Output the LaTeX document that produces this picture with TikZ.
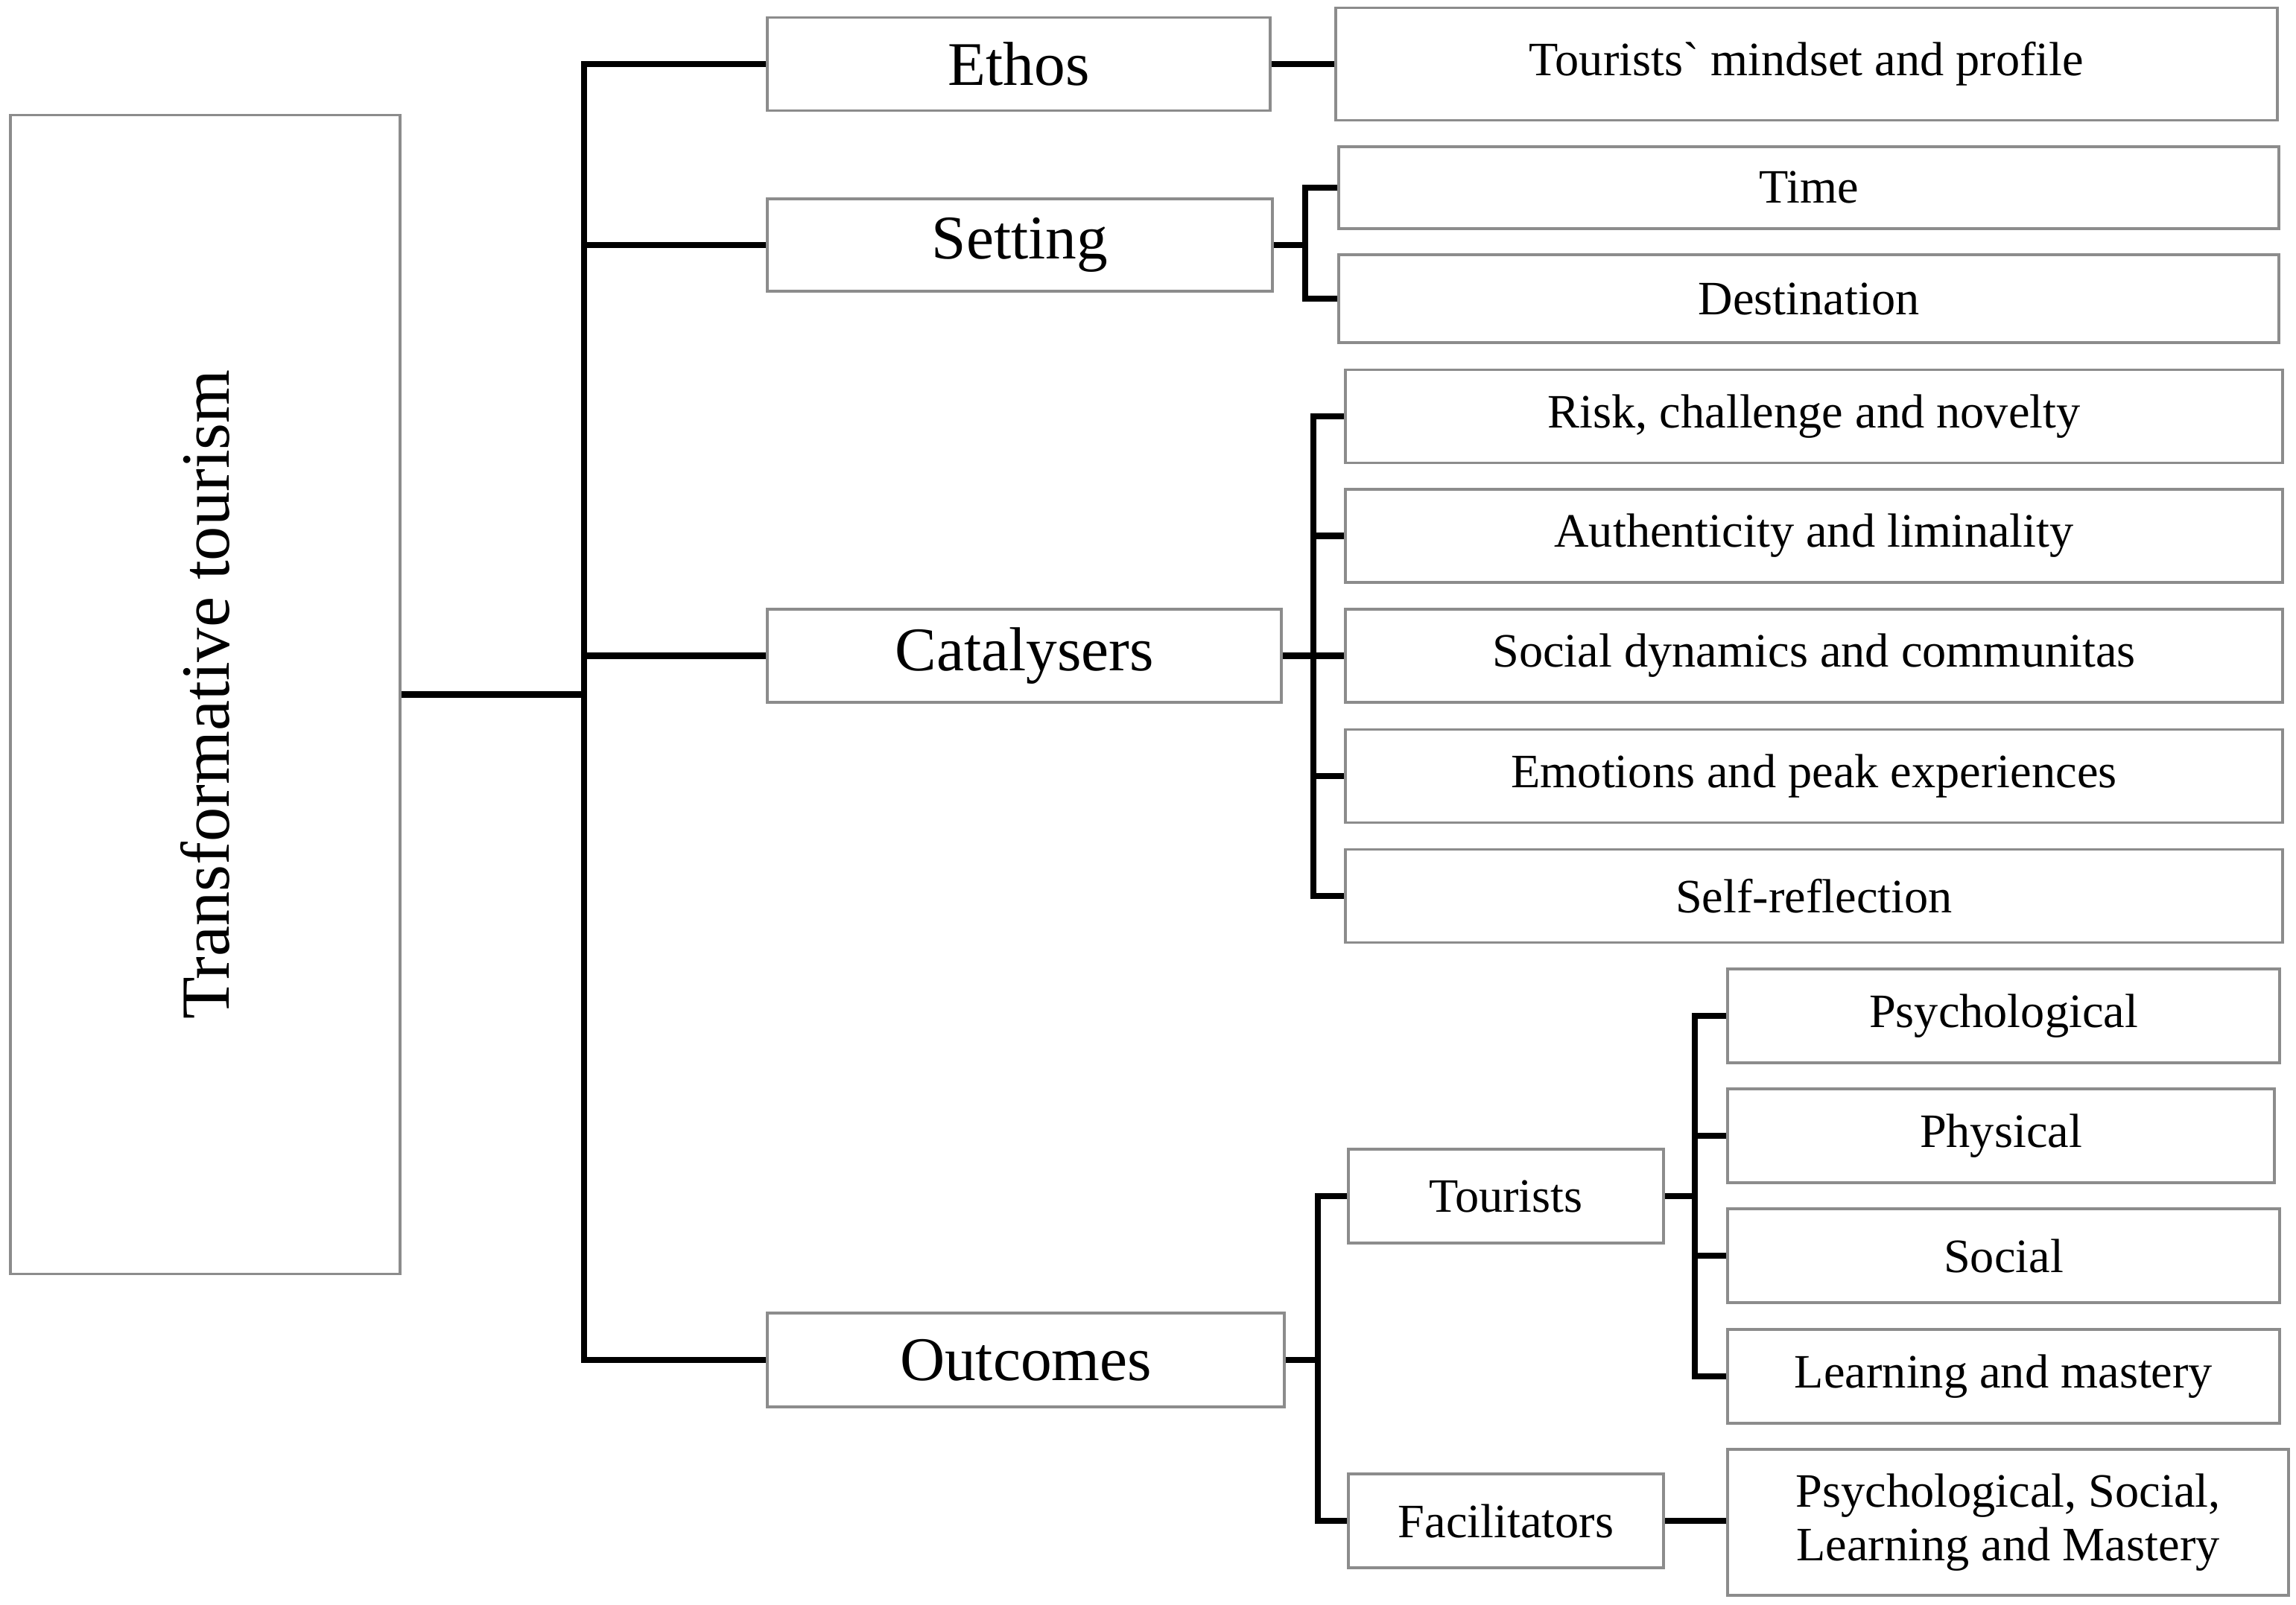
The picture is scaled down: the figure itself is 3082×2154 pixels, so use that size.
\documentclass[tikz,border=0pt]{standalone}
\usepackage{fontspec}
\setmainfont{Liberation Serif}
\definecolor{boxgray}{RGB}{140,140,140}
\begin{document}
\begin{tikzpicture}[x=0.01cm,y=-0.01cm,
  box/.style={draw=boxgray, line width=1.1pt, fill=white, inner sep=0pt, align=center},
  lvone/.style={box, font=\fontsize{23.7}{28}\selectfont},
  lvtwo/.style={box, font=\fontsize{18.3}{20.5}\selectfont},
  conn/.style={line width=2.3pt, black, line join=miter}]
\useasboundingbox (0,0) rectangle (3082,2154);
% root
\node[box, minimum width=5.23cm, minimum height=15.55cm] (root) at (275.5,932.5) {};
\node[rotate=90, font=\fontsize{26.3}{30}\selectfont] (roottxt) at (root.center) {Transformative tourism};
% level one
\node[lvone, minimum width=6.75cm, minimum height=1.25cm] (ethos) at (1367.5,86) {Ethos};
\node[lvone, minimum width=6.78cm, minimum height=1.24cm] (setting) at (1369,329) {Setting};
\node[lvone, minimum width=6.90cm, minimum height=1.25cm] (cat) at (1375,880.5) {Catalysers};
\node[lvone, minimum width=6.94cm, minimum height=1.26cm] (out) at (1377,1826) {Outcomes};
% ethos child
\node[lvtwo, minimum width=12.64cm, minimum height=1.51cm] (mind) at (2425,86) {Tourists\textasciigrave{} mindset and profile};
% setting children
\node[lvtwo, minimum width=12.62cm, minimum height=1.10cm] (time) at (2428,252) {Time};
\node[lvtwo, minimum width=12.62cm, minimum height=1.18cm] (dest) at (2428,401) {Destination};
% catalysers children
\node[lvtwo, minimum width=12.58cm, minimum height=1.25cm] (c1) at (2435,559) {Risk, challenge and novelty};
\node[lvtwo, minimum width=12.58cm, minimum height=1.25cm] (c2) at (2435,719.5) {Authenticity and liminality};
\node[lvtwo, minimum width=12.58cm, minimum height=1.25cm] (c3) at (2435,880.5) {Social dynamics and communitas};
\node[lvtwo, minimum width=12.58cm, minimum height=1.25cm] (c4) at (2435,1042) {Emotions and peak experiences};
\node[lvtwo, minimum width=12.58cm, minimum height=1.25cm] (c5) at (2435,1203) {Self-reflection};
% outcomes children
\node[lvtwo, minimum width=4.23cm, minimum height=1.26cm] (tour) at (2021.5,1606) {Tourists};
\node[lvtwo, minimum width=4.23cm, minimum height=1.26cm] (fac) at (2021.5,2042) {Facilitators};
% tourists children
\node[lvtwo, minimum width=7.41cm, minimum height=1.26cm] (t1) at (2689.5,1364) {Psychological};
\node[lvtwo, minimum width=7.34cm, minimum height=1.26cm] (t2) at (2686,1525) {Physical};
\node[lvtwo, minimum width=7.41cm, minimum height=1.26cm] (t3) at (2689.5,1686) {Social};
\node[lvtwo, minimum width=7.41cm, minimum height=1.26cm] (t4) at (2689.5,1848) {Learning and mastery};
% facilitators child
\node[lvtwo, minimum width=7.53cm, minimum height=1.96cm] (f1) at (2695.5,2044) {Psychological, Social,\\Learning and Mastery};
% junction coordinates
\coordinate (trunk) at (784,932.5);
\coordinate (sb) at (1752,329);
\coordinate (cb) at (1763,880.5);
\coordinate (ob) at (1769,1826);
\coordinate (tb) at (2275,1606);
% connectors
\draw[conn] (root.east) -- (trunk);
\draw[conn] (trunk) |- (ethos.west);
\draw[conn] (trunk) |- (setting.west);
\draw[conn] (trunk) |- (cat.west);
\draw[conn] (trunk) |- (out.west);
\draw[conn] (ethos.east) -- (mind.west);
\draw[conn] (setting.east) -- (sb);
\draw[conn] (sb) |- (time.west);
\draw[conn] (sb) |- (dest.west);
\draw[conn] (cat.east) -- (cb);
\draw[conn] (cb) |- (c1.west);
\draw[conn] (cb) |- (c2.west);
\draw[conn] (cb) |- (c3.west);
\draw[conn] (cb) |- (c4.west);
\draw[conn] (cb) |- (c5.west);
\draw[conn] (out.east) -- (ob);
\draw[conn] (ob) |- (tour.west);
\draw[conn] (ob) |- (fac.west);
\draw[conn] (tour.east) -- (tb);
\draw[conn] (tb) |- (t1.west);
\draw[conn] (tb) |- (t2.west);
\draw[conn] (tb) |- (t3.west);
\draw[conn] (tb) |- (t4.west);
\draw[conn] (fac.east) -- (f1.west |- fac.east);
\end{tikzpicture}
\end{document}
